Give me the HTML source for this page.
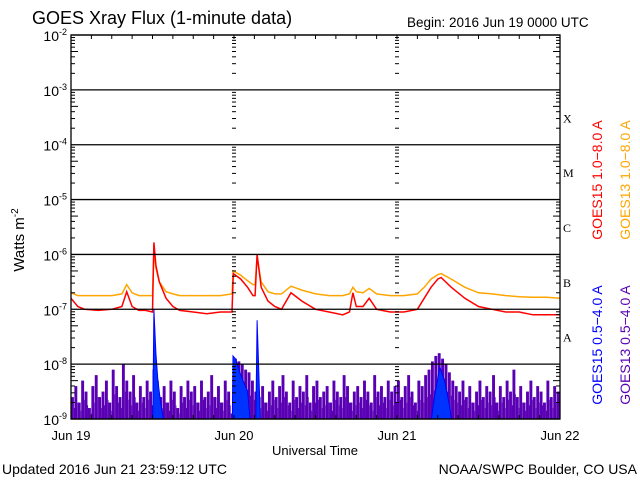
<!DOCTYPE html>
<html><head><meta charset="utf-8"><style>
html,body{margin:0;padding:0;background:#fff}
svg{display:block;font-family:"Liberation Sans",sans-serif}
</style></head><body>
<svg id="c" width="640" height="480" viewBox="0 0 640 480">
<text x="32" y="24" font-size="18">GOES Xray Flux (1-minute data)</text>
<text x="407" y="27" font-size="13.5">Begin:  2016 Jun 19 0000 UTC</text>
<text x="24" y="240" font-size="15" transform="rotate(-90 24 240)" text-anchor="middle">Watts m<tspan dy="-6" font-size="10">-2</tspan></text>
<text x="315" y="455" font-size="13" text-anchor="middle">Universal Time</text>
<text x="2" y="474" font-size="14">Updated 2016 Jun 21 23:59:12 UTC</text>
<text x="637" y="474" font-size="14" text-anchor="end">NOAA/SWPC Boulder, CO USA</text>
<g font-size="14">
<text x="602" y="180" fill="#f00" transform="rotate(-90 602 180)" text-anchor="middle">GOES15 1.0−8.0 A</text>
<text x="630" y="180" fill="#ffa500" transform="rotate(-90 630 180)" text-anchor="middle">GOES13 1.0−8.0 A</text>
<text x="602" y="345" fill="#0000ff" transform="rotate(-90 602 345)" text-anchor="middle">GOES15 0.5−4.0 A</text>
<text x="630" y="345" fill="#5a00b4" transform="rotate(-90 630 345)" text-anchor="middle">GOES13 0.5−4.0 A</text>
</g>
<g id="plot"></g>
</svg>
<script>
const decades=[-2,-3,-4,-5,-6,-7,-8,-9];
const classLabels=['X','M','C','B','A'];
const classLevels=[-4,-5,-6,-7,-8];
const dayLabels=['Jun 19','Jun 20','Jun 21','Jun 22'];
const longTimes=[0,1,2,4,6,7.5,8.2,9,10,11,12,12.2,12.5,13,14,15,16,18,20,22,23.7,23.9,25,26,26.8,27.1,27.4,28,29,30,31,32.4,34,36,38,40,41,41.5,42,43,43.9,45,47,49,51,52,53,54,54.5,56,58,60,62,64,66,68,70,72];
const goes15Long=[-6.8,-6.95,-7.0,-7.02,-7.0,-6.95,-6.68,-6.95,-7.02,-7.02,-7.05,-5.78,-6.2,-6.5,-6.8,-6.95,-7.02,-7.05,-7.08,-7.05,-7.05,-6.35,-6.45,-6.6,-6.75,-6.75,-6.0,-6.6,-6.85,-6.95,-7.0,-6.7,-6.85,-7.0,-7.05,-7.1,-7.05,-6.7,-6.95,-6.95,-6.8,-7.0,-7.05,-7.05,-7.0,-6.8,-6.6,-6.45,-6.42,-6.6,-6.8,-6.95,-7.0,-7.05,-7.05,-7.1,-7.1,-7.1];
const goes13Long=[-6.7,-6.75,-6.75,-6.75,-6.75,-6.72,-6.55,-6.7,-6.75,-6.75,-6.75,-5.9,-6.25,-6.5,-6.68,-6.72,-6.75,-6.75,-6.75,-6.75,-6.72,-6.3,-6.38,-6.48,-6.55,-6.55,-6.05,-6.5,-6.68,-6.72,-6.72,-6.58,-6.65,-6.72,-6.75,-6.75,-6.72,-6.6,-6.68,-6.7,-6.62,-6.72,-6.75,-6.75,-6.72,-6.6,-6.45,-6.37,-6.35,-6.45,-6.6,-6.7,-6.72,-6.75,-6.77,-6.78,-6.78,-6.8];
const shortTimes=[0,12.0,12.2,12.5,12.8,13.2,13.6,14,23.7,23.85,24.2,25,26,26.5,27.0,27.2,27.4,27.7,28,52.5,53.5,54.3,55,55.8,56.5,72];
const goes15Short=[-9.5,-9.5,-7.0,-7.8,-8.3,-8.7,-9.0,-9.5,-9.5,-7.85,-7.9,-8.2,-8.5,-9.2,-9.5,-9.2,-7.2,-8.3,-9.5,-9.5,-8.6,-8.05,-8.3,-8.8,-9.5,-9.5];
const goes13Short=[
-8.6,-8.4,-8.7,-8.3,-8.5,-8.8,-8.4,-8.2,-8.6,-8.5,-8.3,-8.7,
-8.1,-8.4,-8.6,-8.0,-8.3,-8.5,-8.2,-8.7,-8.4,-8.6,-8.3,-8.5,
-8.1,-8.3,-8.6,-8.4,-8.7,-8.3,-8.5,-8.8,-8.4,-8.6,-8.3,-8.5,
-8.4,-8.7,-8.3,-8.6,-8.5,-8.2,-8.6,-8.4,-8.7,-8.3,-8.5,-8.9,
-7.9,-7.95,-8.0,-8.1,-8.15,-8.3,-8.5,-8.6,-8.4,-8.7,-8.5,-8.3,
-8.6,-8.4,-8.2,-8.5,-8.7,-8.3,-8.6,-8.4,-8.5,-8.2,-8.7,-8.4,
-8.3,-8.6,-8.5,-8.4,-8.7,-8.3,-8.5,-8.6,-8.2,-8.4,-8.7,-8.5,
-8.4,-8.6,-8.3,-8.5,-8.7,-8.2,-8.5,-8.4,-8.6,-8.3,-8.5,-8.4,
-8.3,-8.6,-8.4,-8.2,-8.5,-8.7,-8.3,-8.4,-8.2,-8.1,-7.95,-7.85,
-7.8,-7.9,-8.0,-8.15,-8.3,-8.4,-8.5,-8.3,-8.6,-8.4,-8.7,-8.5,
-8.3,-8.6,-8.4,-8.5,-8.2,-8.7,-8.4,-8.6,-8.3,-8.5,-8.1,-8.6,
-8.4,-8.7,-8.5,-8.3,-8.6,-8.4,-8.5,-8.7,-8.3,-8.6,-8.4,-8.5];

const X0=71,X1=560,Y0=35,Y1=419;
const xs=h=>X0+(X1-X0)*h/72;
const ys=l=>Y0+(Y1-Y0)*(-2-l)/7;
const NS='http://www.w3.org/2000/svg';
const plot=document.getElementById('plot');
function mk(tag,attrs,parent){const e=document.createElementNS(NS,tag);for(const k in attrs)e.setAttribute(k,attrs[k]);(parent||plot).appendChild(e);return e;}

const defs=mk('defs',{});
const cp=mk('clipPath',{id:'clip'},defs);
mk('rect',{x:X0,y:Y0,width:X1-X0,height:Y1-Y0},cp);

// purple short
const gP=mk('g',{'clip-path':'url(#clip)'});


goes13Short.forEach((v,i)=>{
  const r=mk('rect',{x:xs(i*0.5),y:ys(v),width:2.9,height:Y1-ys(v),fill:'#5a00b4'},gP);
  
  
  const r2=mk('rect',{x:xs(i*0.5)+2.9,y:ys((v-9)/2),width:0.6,height:Y1-ys((v-9)/2),fill:'#5a00b4'},gP);
  
  
});
// blue short
let d='M'+xs(shortTimes[0])+','+Y1;
shortTimes.forEach((t,i)=>{d+=' L'+xs(t).toFixed(1)+','+ys(goes15Short[i]).toFixed(1);});
d+=' L'+xs(72)+','+Y1+'Z';
const bl=mk('path',{d:d,fill:'#0033ff',stroke:'#0000ff','stroke-width':1,'clip-path':'url(#clip)'});



function line(vals,color,name){
  let p='';longTimes.forEach((t,i)=>{p+=(i?' L':'M')+xs(t).toFixed(1)+','+ys(vals[i]).toFixed(1);});
  const e=mk('path',{d:p,fill:'none',stroke:color,'stroke-width':1.5,'clip-path':'url(#clip)'});
  
  
}
line(goes13Long,'#ffa500','goes13-long-series');
line(goes15Long,'#ff0000','goes15-long-series');

decades.forEach(l=>{
  const g=mk('line',{x1:X0,x2:X1,y1:ys(l),y2:ys(l),stroke:'#000','stroke-width':1.3});
  
  
  const t=mk('text',{x:X0-4,y:ys(l)+6,'font-size':14,'text-anchor':'end'});
  
  
  t.innerHTML='10<tspan dy="-6" font-size="9">'+l+'</tspan>';
});
const fr=mk('rect',{x:X0,y:Y0,width:X1-X0,height:Y1-Y0,fill:'none',stroke:'#000','stroke-width':1.3});


[0,24,48,72].forEach(h=>{
  const x=xs(h);
  for(let dd=-2;dd>-9;dd--){for(let m=2;m<=9;m++){
    const y=ys(dd-1+Math.log10(m));
    const len=m==5?7:4;
    if(h===0)mk('line',{x1:x,x2:x+len,y1:y,y2:y,stroke:'#000'});
    else if(h===72)mk('line',{x1:x,x2:x-len,y1:y,y2:y,stroke:'#000'});
    else mk('line',{x1:x-2,x2:x+2,y1:y,y2:y,stroke:'#000'});
  }}
});
for(let h=3;h<72;h+=3){mk('line',{x1:xs(h),x2:xs(h),y1:Y0,y2:Y0+4,stroke:'#000'});mk('line',{x1:xs(h),x2:xs(h),y1:Y1,y2:Y1-4,stroke:'#000'});}
dayLabels.forEach((s,i)=>{
  const t=mk('text',{x:xs(i*24),y:440,'font-size':13,'text-anchor':'middle'});
  t.textContent=s;
  
  
});
classLabels.forEach((s,i)=>{
  const t=mk('text',{x:X1+3,y:(ys(classLevels[i])+ys(classLevels[i]+1))/2+5,'font-size':12,'font-family':'Liberation Serif, serif'});
  t.textContent=s;
  
  
});
</script>
</body></html>
